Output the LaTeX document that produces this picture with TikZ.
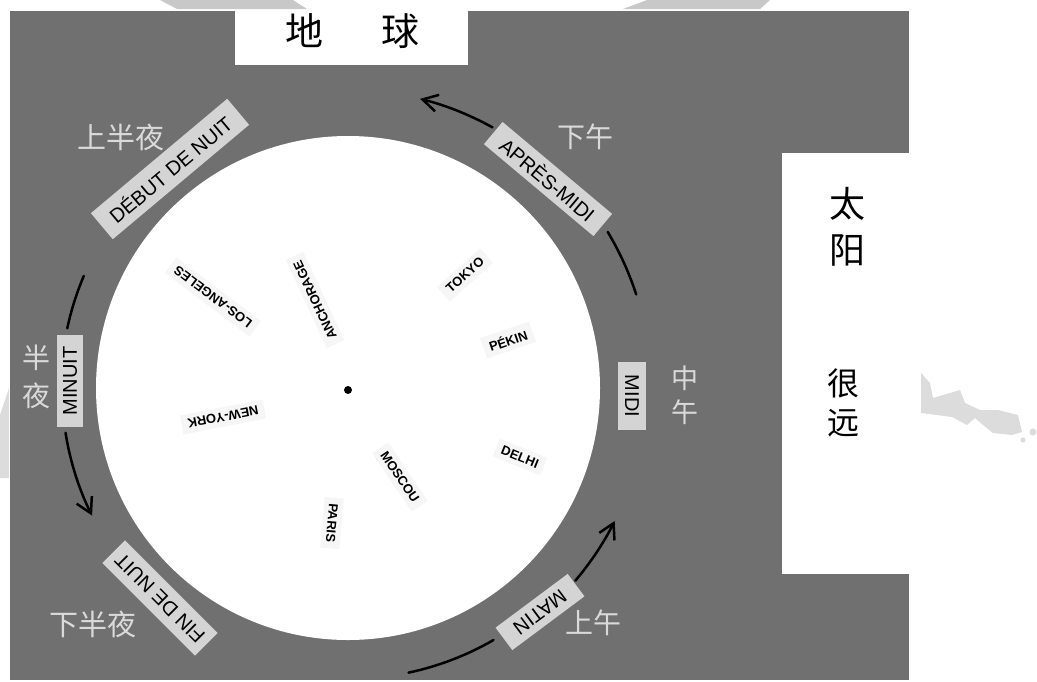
\documentclass[tikz,border=0pt]{standalone}
\usepackage{fontspec}
\newfontfamily\lab{Liberation Sans}
\newfontfamily\cjk{Noto Sans CJK SC}
\usetikzlibrary{arrows.meta}
\definecolor{board}{RGB}{112,112,112}
\definecolor{tape}{RGB}{212,212,212}
\definecolor{chin}{RGB}{218,218,218}
\definecolor{wm}{RGB}{200,200,200}
\definecolor{wmb}{RGB}{220,220,220}
\definecolor{citybg}{RGB}{246,246,246}
\tikzset{
  tapebox/.style={fill=tape, text=black, inner sep=0pt, font=\lab\fontsize{20}{20}\selectfont},
  citybox/.style={fill=citybg, text=black, inner xsep=6pt, inner ysep=5pt, font=\lab\bfseries\fontsize{13}{13}\selectfont},
  chlabel/.style={text=chin, inner sep=0pt, align=center},
  blacklabel/.style={text=black, inner sep=0pt, align=center},
  arcline/.style={draw=black, line width=2.5pt, line cap=round},
  arrowline/.style={arcline, -{Straight Barb[length=15pt,width=17pt]}}
}
\begin{document}
\begin{tikzpicture}[x=1pt,y=-1pt]
\useasboundingbox (0,0) rectangle (1037,681);
\fill[white] (0,0) rectangle (1037,681);
% board
\fill[board] (10,11) rectangle (909,680);
% white cards
\fill[white] (235,0) rectangle (468,65);
\fill[white] (782,153) rectangle (909,574);
% watermark fragments
\fill[wm] (160,0) -- (293,0) -- (307,9) -- (177,9) -- cycle;
\fill[wm] (647,0) -- (770,0) -- (760,9) -- (623,9) -- cycle;
\fill[wmb] (0,415) -- (9,388) -- (9,478) -- (0,478) -- cycle;
\fill[wmb] (921,373) -- (930,383) -- (933,398) -- (960,390) -- (965,403) -- (980,410)
  -- (998,410) -- (1018,415) -- (1022,432) -- (1012,435) -- (993,433) -- (983,425)
  -- (975,418) -- (967,425) -- (952,417) -- (921,413) -- cycle;
\fill[wmb] (1033,432) circle[radius=3.5];
\fill[wmb] (1023,440) circle[radius=2.5];
% titles
\node[blacklabel, font=\cjk\fontsize{38}{38}\selectfont] (earthtitle) at (352.5,31) {地\hspace{59pt}球};
\node[blacklabel, font=\cjk\fontsize{36}{46}\selectfont] (sun) at (847,227) {太\\阳};
\node[blacklabel, font=\cjk\fontsize{32}{39}\selectfont] (far) at (843,403) {很\\远};
% earth disc
\coordinate (c) at (348,388);
\fill[white] (c) circle[radius=252];
\fill[black] (348,390) circle[radius=4];
% city labels
\node[citybox, rotate=143] (losangeles) at (213,297) {LOS-ANGELES};
\node[citybox, rotate=115] (anchorage) at (315,300) {ANCHORAGE};
\node[citybox, rotate=191] (newyork) at (223,417) {NEW-YORK};
\node[citybox, rotate=42] (tokyo) at (465,275) {TOKYO};
\node[citybox, rotate=19] (pekin) at (508,340) {PÉKIN};
\node[citybox, rotate=-22] (delhi) at (520,457) {DELHI};
\node[citybox, rotate=-56] (moscou) at (400,477) {MOSCOU};
\node[citybox, rotate=-95] (paris) at (332,523) {PARIS};
% time-of-day tapes
\node[tapebox, rotate=40, minimum width=178pt, minimum height=34pt] (debut) at (170,169) {DÉBUT DE NUIT};
\node[tapebox, rotate=-40, minimum width=143pt, minimum height=29pt] (apres) at (548,179) {APRÈS-MIDI};
\node[tapebox, rotate=-90, minimum width=68pt, minimum height=28pt] (midi) at (632,396) {MIDI};
\node[tapebox, rotate=216.7, minimum width=90pt, minimum height=28pt] (matin) at (540,612) {MATIN};
\node[tapebox, rotate=135, minimum width=131pt, minimum height=32pt] (fin) at (160,598) {FIN DE NUIT};
\node[tapebox, rotate=90, minimum width=92pt, minimum height=26pt] (minuit) at (70,381) {MINUIT};
% chinese labels
\node[chlabel, font=\cjk\fontsize{29}{29}\selectfont] (shangbanye) at (121,137) {上半夜};
\node[chlabel, font=\cjk\fontsize{28}{28}\selectfont] (xiawu) at (585,137) {下午};
\node[chlabel, font=\cjk\fontsize{27}{34}\selectfont] (zhongwu) at (685,395) {中\\午};
\node[chlabel, font=\cjk\fontsize{28}{28}\selectfont] (shangwu) at (593,623) {上午};
\node[chlabel, font=\cjk\fontsize{29}{29}\selectfont] (xiabanye) at (93,624) {下半夜};
\node[chlabel, font=\cjk\fontsize{28}{38}\selectfont] (banye) at (36,377) {半\\夜};
% arcs around the earth
\draw[arrowline] ([shift={(-61:298)}]c) arc[start angle=-61, end angle=-76, radius=298];
\draw[arcline] ([shift={(-18:303)}]c) arc[start angle=-18, end angle=-31, radius=303];
\draw[arcline] ([shift={(203:287)}]c) arc[start angle=203, end angle=192, radius=287];
\draw[arrowline] ([shift={(171:286)}]c) arc[start angle=171, end angle=153.5, radius=286];
\draw[arcline] ([shift={(78:291)}]c) arc[start angle=78, end angle=60, radius=291];
\draw[arrowline] ([shift={(40.3:298)}]c) arc[start angle=40.3, end angle=26.5, radius=298];
\end{tikzpicture}
\end{document}
